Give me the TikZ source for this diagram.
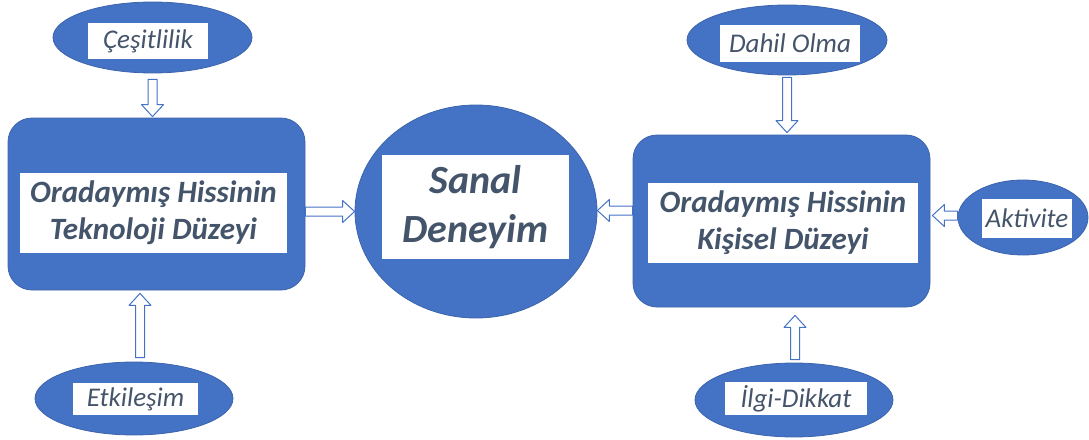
\documentclass[tikz,border=0pt]{standalone}
\usepackage{fontspec}
\setmainfont{Carlito}
\usetikzlibrary{shapes.geometric,calc}
\begin{document}
\begin{tikzpicture}[x=1pt,y=-1pt,line join=round,
	kutu/.style={draw=mavikenar,fill=mavi,rounded corners=24pt,line width=.8pt,minimum width=297pt,minimum height=172pt},
	oval/.style={ellipse,draw=mavikenar,fill=mavi,line width=.8pt,inner sep=0pt},
	etiket/.style={fill=white,inner sep=0pt,text=yazi,font=\fontsize{27}{30}\selectfont\itshape},
	baslik/.style={fill=white,inner sep=0pt,text=yazi,align=center,font=\fontsize{31}{37}\selectfont\bfseries\itshape},
	ok/.style={draw=mavi,fill=white,line width=1pt,
		to path={let \p1=(\tikztostart),\p2=(\tikztotarget),
			\n1={atan2(\y2-\y1,\x2-\x1)},\n2={veclen(\x2-\x1,\y2-\y1)} in
			{[shift={(\p1)},rotate=\n1] (0pt,-4.5pt) -- ({\n2-12pt},-4.5pt) -- ({\n2-12pt},-11pt)
			-- ({\n2},0pt) -- ({\n2-12pt},11pt) -- ({\n2-12pt},4.5pt) -- (0pt,4.5pt) -- cycle}}}]
	\definecolor{mavi}{HTML}{4472C4}
	\definecolor{mavikenar}{HTML}{3C64AC}
	\definecolor{yazi}{HTML}{44546A}
	\useasboundingbox (0,0) rectangle (1089,439);
	
	% merkez
	\node[oval,minimum width=242,minimum height=213] (sanal) at (476,211.5) {};
	\node[baslik,minimum width=187,minimum height=104,font=\fontsize{40}{49}\selectfont\bfseries\itshape] (sanalT) at (475.5,207) {Sanal\\Deneyim};
	
	% sol taraf
	\node[kutu] (tekno) at (156.5,204) {};
	\node[baslik,minimum width=267,minimum height=80] (teknoT) at (153.5,213) {Oradaymış Hissinin\\Teknoloji Düzeyi};
	\node[oval,minimum width=199,minimum height=71] (cesit) at (152.5,37.5) {};
	\node[etiket,minimum width=120,minimum height=36] (cesitT) at (148,41) {Çeşitlilik};
	\node[oval,minimum width=198,minimum height=73] (etki) at (134,398.5) {};
	\node[etiket,minimum width=125,minimum height=32] (etkiT) at (135.5,399) {Etkileşim};
	
	% sag taraf
	\node[kutu] (kisi) at (781.5,221) {};
	\node[baslik,minimum width=270,minimum height=80] (kisiT) at (783,223) {Oradaymış Hissinin\\Kişisel Düzeyi};
	\node[oval,minimum width=200,minimum height=70] (dahil) at (787,40) {};
	\node[etiket,minimum width=140,minimum height=37] (dahilT) at (790,43.5) {Dahil Olma};
	\node[oval,minimum width=130,minimum height=75] (akti) at (1023,217.5) {};
	\node[etiket,minimum width=90,minimum height=39] (aktiT) at (1027,218.5) {Aktivite};
	\node[oval,minimum width=198,minimum height=74] (ilgi) at (794,400) {};
	\node[etiket,minimum width=142,minimum height=33] (ilgiT) at (796,398.5) {İlgi-Dikkat};
	
	% oklar
	\draw[ok] ([yshift=-6pt]cesit.south) to ([yshift=1pt]tekno.north -| cesit.south);
	\draw[ok] ([xshift=6pt,yshift=4pt]etki.north) to ([xshift=6pt,yshift=-3pt]etki.north |- tekno.south);
	\draw[ok] (tekno.east |- sanal.center) to (sanal.west);
	\draw[ok] ([yshift=-2pt]dahil.south) to ([yshift=2pt]dahil.south |- kisi.north);
	\draw[ok] ([xshift=1pt,yshift=3pt]ilgi.north) to ([xshift=1pt,yshift=-8pt]ilgi.north |- kisi.south);
	\draw[ok] ([yshift=2pt]akti.west) to ([xshift=2pt,yshift=2pt]kisi.east |- akti.west);
	\draw[ok] ([yshift=1pt]kisi.west |- sanal.center) to ([yshift=1pt]sanal.east);
\end{tikzpicture}
\end{document}
